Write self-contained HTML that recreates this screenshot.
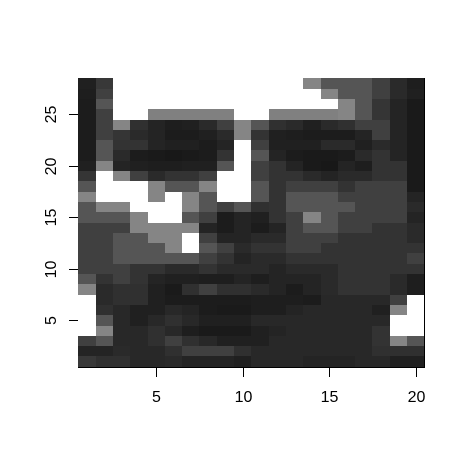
<!DOCTYPE html>
<html lang="en">
<head>
<meta charset="utf-8">
<title>Grayscale face heatmap</title>
<style>
html,body{margin:0;padding:0;background:#fff;width:465px;height:465px;overflow:hidden}
svg{display:block}
text{font-family:"Liberation Sans",Arial,sans-serif;font-size:16px;fill:#000}
</style>
</head>
<body>
<svg id="chart" width="465" height="465" viewBox="0 0 465 465" xmlns="http://www.w3.org/2000/svg">
<g id="cells" shape-rendering="crispEdges"></g>
<g id="axes" shape-rendering="crispEdges"></g>
<g id="x-labels"></g>
<g id="y-labels"></g>
</svg>
<script>
const xTicks = [5, 10, 15, 20];
const yTicks = [5, 10, 15, 20, 25];
const W = 255;
const y28 = [0x20,0x38,W,W,W,W,W,W,W,W,W,W,W,0x85,0x55,0x55,0x55,0x40,0x2a,0x1e];
const y27 = [0x1e,0x40,W,W,W,W,W,W,W,W,W,W,W,W,0x85,0x55,0x55,0x40,0x2a,0x20];
const y26 = [0x1c,0x55,W,W,W,W,W,W,W,W,W,W,W,W,W,0x85,0x55,0x35,0x24,0x1a];
const y25 = [0x1c,0x40,W,W,0x80,0x80,0x80,0x80,0x80,W,W,0x80,0x80,0x80,0x80,0x85,0x55,0x35,0x24,0x1a];
const y24 = [0x1c,0x40,0x85,0x30,0x24,0x1e,0x20,0x2a,0x40,0x85,0x55,0x30,0x2a,0x20,0x2a,0x30,0x40,0x40,0x24,0x1a];
const y23 = [0x1c,0x40,0x35,0x2a,0x24,0x1c,0x1c,0x20,0x2a,0x85,0x33,0x20,0x1e,0x1c,0x1c,0x1c,0x24,0x40,0x24,0x1a];
const y22 = [0x1c,0x55,0x33,0x33,0x24,0x20,0x20,0x1c,0x24,W,0x40,0x20,0x20,0x20,0x2a,0x2a,0x20,0x2a,0x24,0x1a];
const y21 = [0x1c,0x55,0x2a,0x1c,0x1a,0x18,0x1a,0x1c,0x33,W,0x55,0x24,0x1c,0x1a,0x1a,0x1c,0x2a,0x33,0x24,0x1a];
const y20 = [0x20,0x85,0x24,0x20,0x1e,0x1e,0x20,0x20,0x55,W,0x40,0x33,0x24,0x1a,0x18,0x24,0x1e,0x33,0x33,0x1a];
const y19 = [0x35,W,0x85,0x40,0x2a,0x33,0x33,0x40,W,W,0x40,0x33,0x33,0x2a,0x24,0x2a,0x2a,0x33,0x33,0x1a];
const y18 = [0x55,W,W,W,0x85,0x55,0x55,0x85,W,W,0x55,0x33,0x40,0x40,0x40,0x33,0x40,0x40,0x40,0x1a];
const y17 = [0x85,W,W,W,0x85,W,0x85,0x55,W,W,0x55,0x33,0x55,0x55,0x55,0x40,0x40,0x40,0x40,0x24];
const y16 = [0x55,0x85,0x85,W,W,W,0x85,0x55,0x40,0x55,0x30,0x33,0x55,0x55,0x55,0x55,0x40,0x40,0x40,0x2a];
const y15 = [0x55,0x55,0x55,0x85,W,W,0x55,0x40,0x1c,0x24,0x20,0x33,0x40,0x85,0x55,0x40,0x40,0x40,0x40,0x24];
const y14 = [0x40,0x40,0x40,0x85,0x85,0x85,0x85,0x24,0x1c,0x24,0x1c,0x24,0x40,0x55,0x55,0x40,0x40,0x33,0x33,0x2a];
const y13 = [0x40,0x40,0x55,0x55,0x85,0x85,W,0x40,0x24,0x24,0x2a,0x2a,0x40,0x40,0x40,0x33,0x33,0x33,0x33,0x2a];
const y12 = [0x40,0x40,0x55,0x55,0x55,0x85,W,0x55,0x40,0x2a,0x33,0x33,0x40,0x40,0x33,0x33,0x33,0x33,0x33,0x33];
const y11 = [0x40,0x40,0x55,0x55,0x55,0x55,0x55,0x40,0x33,0x24,0x2a,0x2a,0x33,0x33,0x33,0x33,0x33,0x33,0x33,0x40];
const y10 = [0x40,0x40,0x40,0x33,0x33,0x2a,0x2a,0x33,0x2a,0x2a,0x2a,0x24,0x2a,0x2a,0x2a,0x33,0x33,0x33,0x33,0x33];
const y09 = [0x55,0x33,0x40,0x33,0x24,0x20,0x20,0x1e,0x1e,0x24,0x1e,0x24,0x24,0x24,0x2a,0x33,0x33,0x33,0x2a,0x1e];
const y08 = [0x85,0x2a,0x30,0x30,0x20,0x1a,0x30,0x40,0x30,0x30,0x2a,0x24,0x1c,0x24,0x2a,0x33,0x33,0x33,0x2a,0x1e];
const y07 = [W,0x2a,0x30,0x30,0x20,0x1c,0x1c,0x1c,0x1c,0x1c,0x1e,0x1e,0x1e,0x1c,0x28,0x28,0x28,0x28,0x40,W];
const y06 = [W,0x30,0x28,0x20,0x20,0x28,0x24,0x1c,0x1a,0x1a,0x1e,0x1e,0x24,0x28,0x28,0x28,0x28,0x20,0x85,W];
const y05 = [W,0x55,0x28,0x20,0x28,0x30,0x28,0x20,0x20,0x20,0x28,0x28,0x28,0x28,0x28,0x28,0x28,0x28,W,W];
const y04 = [W,0x85,0x28,0x28,0x30,0x28,0x1e,0x1a,0x1a,0x1a,0x20,0x24,0x28,0x28,0x28,0x28,0x28,0x33,W,W];
const y03 = [0x40,0x55,0x28,0x28,0x30,0x40,0x30,0x28,0x20,0x20,0x20,0x28,0x28,0x28,0x28,0x28,0x28,0x33,0x85,0x55];
const y02 = [0x24,0x24,0x2a,0x28,0x28,0x30,0x40,0x40,0x40,0x30,0x28,0x28,0x28,0x28,0x28,0x28,0x28,0x30,0x30,0x30];
const y01 = [0x38,0x30,0x30,0x28,0x28,0x2a,0x24,0x24,0x24,0x20,0x28,0x28,0x28,0x24,0x24,0x24,0x28,0x28,0x20,0x20];
const rowsBottomUp = [y01,y02,y03,y04,y05,y06,y07,y08,y09,y10,y11,y12,y13,y14,y15,y16,y17,y18,y19,y20,y21,y22,y23,y24,y25,y26,y27,y28];

const NS = 'http://www.w3.org/2000/svg';
const plotLeft = 78.3, plotTop = 78.3, plotW = 346, plotH = 288.4;
const nCols = y01.length, nRows = rowsBottomUp.length;
function xPos(v){ return plotLeft + (v - 0.5) * plotW / nCols; }
function yPos(v){ return plotTop + plotH - (v - 0.5) * plotH / nRows; }
function grayColor(v){ return 'rgb(' + v + ',' + v + ',' + v + ')'; }

const cellsG = document.getElementById('cells');
rowsBottomUp.forEach(function(row, r){
  row.forEach(function(val, c){
    const x0 = Math.round(xPos(c + 0.5)), x1 = Math.round(xPos(c + 1.5));
    const y0 = Math.round(yPos(r + 1.5)), y1 = Math.round(yPos(r + 0.5));
    const rect = document.createElementNS(NS, 'rect');
    rect.setAttribute('x', x0);
    rect.setAttribute('y', y0);
    rect.setAttribute('width', x1 - x0);
    rect.setAttribute('height', y1 - y0);
    rect.setAttribute('fill', grayColor(val));
    
    
    cellsG.appendChild(rect);
  });
});

const axesG = document.getElementById('axes');
function addBar(x, y, w, h, name){
  const b = document.createElementNS(NS, 'rect');
  b.setAttribute('x', x);
  b.setAttribute('y', y);
  b.setAttribute('width', w);
  b.setAttribute('height', h);
  b.setAttribute('fill', '#000');
  
  
  axesG.appendChild(b);
}
addBar(78, 367, 347, 1, 'plot-frame-bottom');
addBar(424, 78, 1, 290, 'plot-frame-right');

const xLabels = document.getElementById('x-labels');
xTicks.forEach(function(t){
  const px = Math.round(xPos(t));
  addBar(px, 367, 1, 10, 'x-axis-tick');
  const label = document.createElementNS(NS, 'text');
  label.setAttribute('x', px + 0.5);
  label.setAttribute('y', 402);
  label.setAttribute('text-anchor', 'middle');
  
  
  label.textContent = t;
  xLabels.appendChild(label);
});

const yLabels = document.getElementById('y-labels');
yTicks.forEach(function(t){
  const py = Math.round(yPos(t));
  addBar(69, py, 9, 1, 'y-axis-tick');
  const label = document.createElementNS(NS, 'text');
  label.setAttribute('transform', 'translate(56,' + (py + 0.5) + ') rotate(-90)');
  label.setAttribute('text-anchor', 'middle');
  
  
  label.textContent = t;
  yLabels.appendChild(label);
});
</script>
</body>
</html>
